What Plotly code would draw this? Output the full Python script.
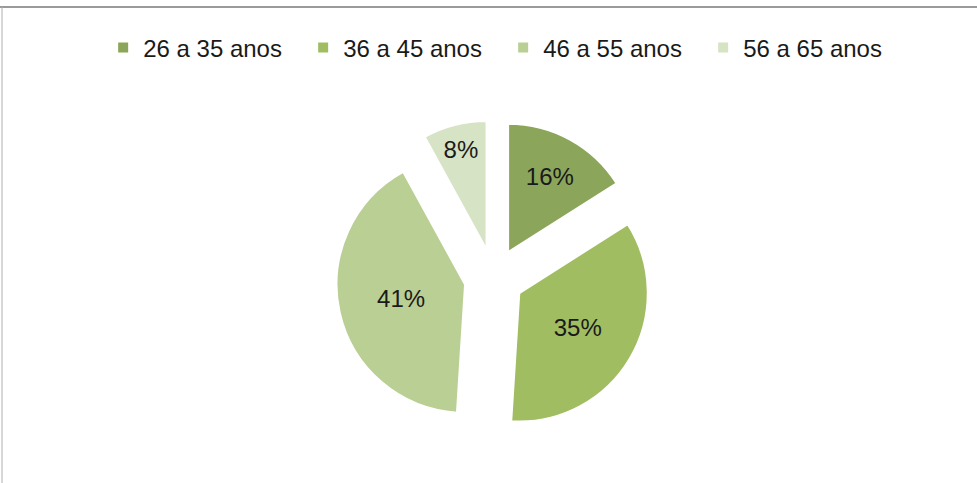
import plotly.graph_objects as go

categories = ["26 a 35 anos", "36 a 45 anos", "46 a 55 anos", "56 a 65 anos"]
values = [16, 35, 41, 8]
colors = ["#8BA65A", "#A0BD62", "#BACF93", "#D6E3C4"]

W, H = 977, 483

fig = go.Figure(go.Pie(
    labels=categories,
    values=values,
    sort=False,
    direction="clockwise",
    rotation=0,
    pull=[0.23] * len(values),
    marker=dict(colors=colors, line=dict(color="white", width=2)),
    textinfo="percent",
    texttemplate="%{percent:.0%}",
    textposition="inside",
    insidetextorientation="horizontal",
    insidetextfont=dict(family="Liberation Sans, Arial", size=24, color="#1a1a1a"),
    domain=dict(x=[0.203, 0.808], y=[47 / H, 1 - 120 / H]),
    hoverinfo="label+percent",
))

fig.update_layout(
    width=W, height=H,
    margin=dict(l=0, r=0, t=0, b=0),
    paper_bgcolor="white",
    plot_bgcolor="white",
    showlegend=True,
    legend=dict(
        orientation="h",
        x=0.515, xanchor="center",
        y=1 - 48 / H, yanchor="middle",
        font=dict(family="Liberation Sans, Arial", size=24, color="#1a1a1a"),
        itemwidth=30,
        entrywidth=155, entrywidthmode="pixels",
        traceorder="normal",
    ),
    shapes=[
        dict(type="line", xref="paper", yref="paper", x0=0, x1=1, y0=1 - 7 / H, y1=1 - 7 / H,
             line=dict(color="#9a9a9a", width=2)),
        dict(type="line", xref="paper", yref="paper", x0=2 / W, x1=2 / W, y0=0, y1=1 - 7 / H,
             line=dict(color="#b0b0b0", width=1)),
    ],
)

fig.write_html("out.html")
